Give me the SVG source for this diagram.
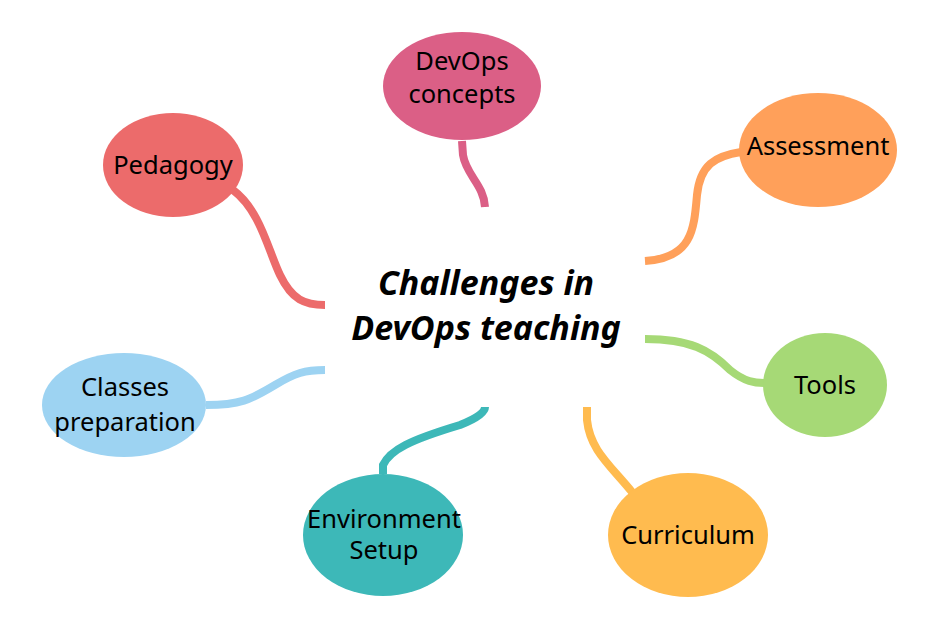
<svg xmlns="http://www.w3.org/2000/svg" width="927" height="631" viewBox="0 0 927 631">
<style>
.lbl{font-family:"Noto Sans","Open Sans",sans-serif;font-size:25.5px;fill:#000;text-anchor:middle}
.ctr{font-family:"Noto Sans","Open Sans",sans-serif;font-size:34px;font-weight:bold;font-style:italic;fill:#000;text-anchor:middle}
.con path{fill:none;stroke-width:8}
</style>
<rect width="927" height="631" fill="#fff"/>
<g id="connectors" class="con">
<path d="M462,141 L463,155 C466,175 484,185 485,207" stroke="#DB5F86"/>
<path d="M741,152 C715,156 700,165 697,195 C694,230 692,258 645,261" stroke="#FFA05A"/>
<path d="M233,190 C260,210 268,250 280,275 C292,300 305,305 325,305" stroke="#EC6B6B"/>
<path d="M206,405 C240,405 250,400 275,385 C295,373 305,370 325,370" stroke="#9DD3F2"/>
<path d="M383,474 L383,465 C390,450 410,440 460,425 C478,418 485,412 485,407" stroke="#3DB8B8"/>
<path d="M587,407 L587,420 C590,450 610,465 632,492" stroke="#FFBB4F"/>
<path d="M645,339 C690,339 710,350 730,370 C745,382 755,383 764,383" stroke="#A6D976"/>
</g>
<g id="center">
<text class="ctr" x="486" y="295">Challenges in</text>
<text class="ctr" x="486" y="340">DevOps teaching</text>
</g>
<g id="devops-concepts">
<ellipse cx="462" cy="86" rx="79" ry="54" fill="#DB5F86"/>
<text class="lbl" x="462" y="70">DevOps</text>
<text class="lbl" x="462" y="103">concepts</text>
</g>
<g id="assessment">
<ellipse cx="818" cy="150" rx="79" ry="57" fill="#FFA05A"/>
<text class="lbl" x="818" y="155">Assessment</text>
</g>
<g id="pedagogy">
<ellipse cx="173" cy="165" rx="70" ry="52" fill="#EC6B6B"/>
<text class="lbl" x="173" y="174">Pedagogy</text>
</g>
<g id="classes-preparation">
<ellipse cx="124" cy="405" rx="82" ry="52" fill="#9DD3F2"/>
<text class="lbl" x="125" y="396">Classes</text>
<text class="lbl" x="125" y="431">preparation</text>
</g>
<g id="environment-setup">
<ellipse cx="383" cy="535" rx="80" ry="61" fill="#3DB8B8"/>
<text class="lbl" x="384" y="528">Environment</text>
<text class="lbl" x="384" y="559">Setup</text>
</g>
<g id="curriculum">
<ellipse cx="688" cy="535" rx="80" ry="62" fill="#FFBB4F"/>
<text class="lbl" x="688" y="544">Curriculum</text>
</g>
<g id="tools">
<ellipse cx="825" cy="385" rx="62" ry="52" fill="#A6D976"/>
<text class="lbl" x="825" y="394">Tools</text>
</g>
</svg>
